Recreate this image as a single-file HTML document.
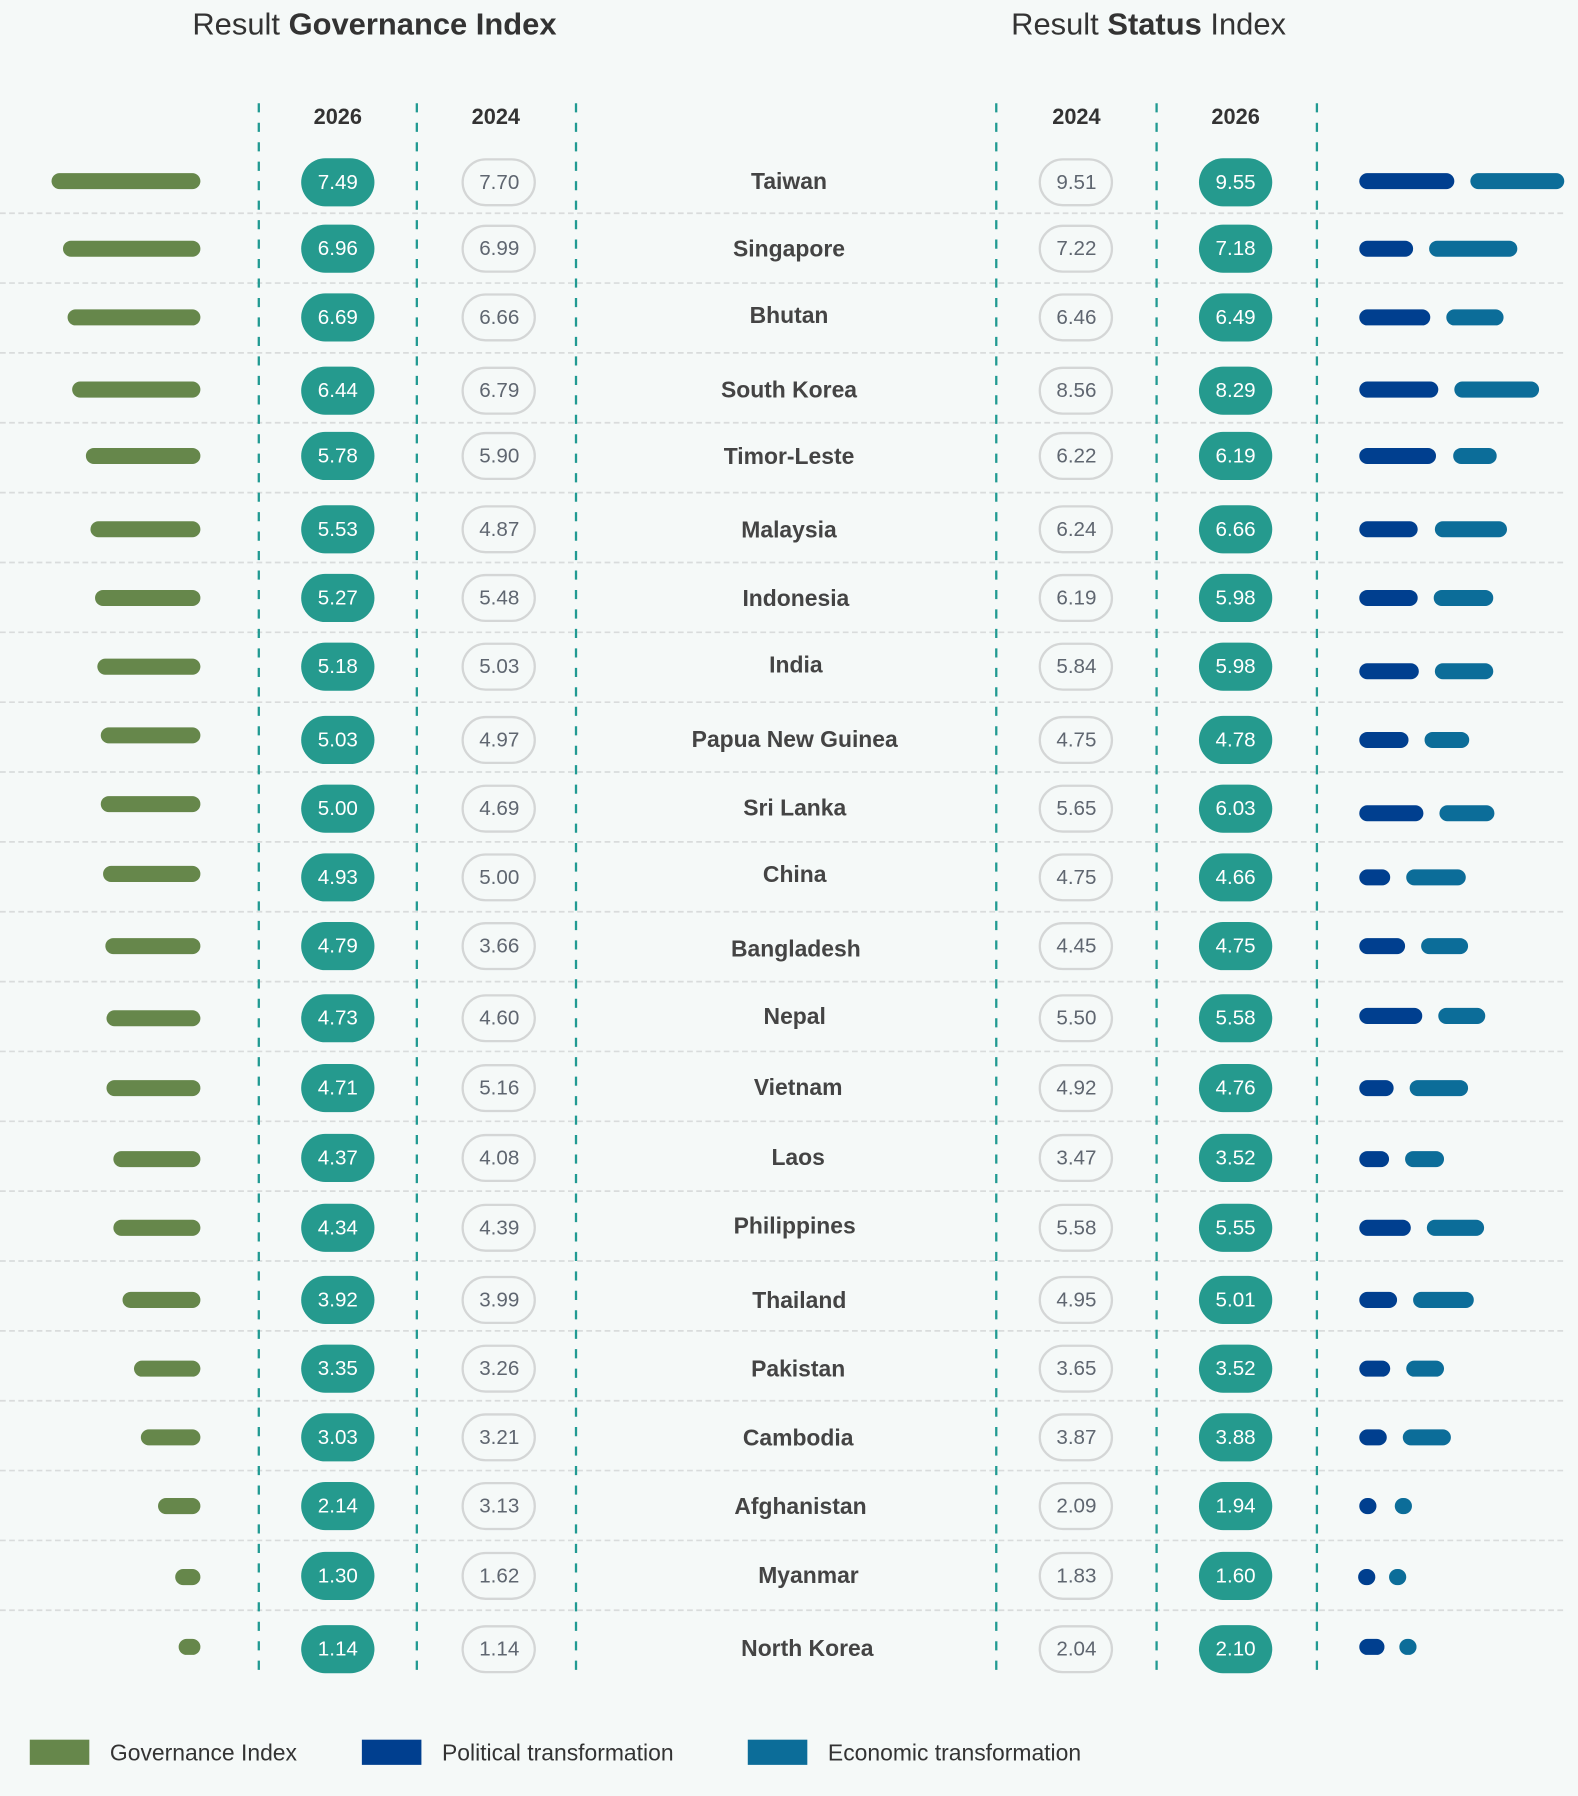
<!DOCTYPE html>
<html><head><meta charset="utf-8"><style>
html,body{margin:0;padding:0;background:#f5f9f8;}
svg{display:block;}
text{font-family:"Liberation Sans",sans-serif;}
.t{font-size:27px;fill:#333;}
.h{font-size:19px;font-weight:bold;fill:#333;text-anchor:middle;}
.c{font-size:20px;font-weight:bold;fill:#444;text-anchor:middle;dominant-baseline:central;}
.pf{fill:#259a8e;}
.po{fill:#f5f9f8;stroke:#d4d6d6;stroke-width:2;}
.nf{font-size:18px;fill:#fff;text-anchor:middle;dominant-baseline:central;}
.no{font-size:18px;fill:#5f6670;text-anchor:middle;dominant-baseline:central;}
.g{stroke:#66874b;stroke-width:14;stroke-linecap:round;}
.p{stroke:#003f8f;stroke-width:14;stroke-linecap:round;}
.e{stroke:#0c6d99;stroke-width:14;stroke-linecap:round;}
.v{stroke:#219a92;stroke-width:2;stroke-dasharray:8,9;}
.s{stroke:#d9dcdc;stroke-width:1.5;stroke-dasharray:5,3;}
.l{font-size:20px;fill:#333;dominant-baseline:central;}
</style></head><body>
<svg width="1578" height="1796" viewBox="0 0 1378 1568" xmlns="http://www.w3.org/2000/svg">
<rect width="1378" height="1568" fill="#f5f9f8"/>
<text class="t" x="327" y="30" text-anchor="middle">Result <tspan font-weight="bold">Governance Index</tspan></text>
<text class="t" x="1003" y="30" text-anchor="middle">Result <tspan font-weight="bold">Status</tspan> Index</text>
<text class="h" x="295" y="108">2026</text><text class="h" x="433" y="108">2024</text>
<text class="h" x="940" y="108">2024</text><text class="h" x="1079" y="108">2026</text>
<g class="s">
<line x1="0" y1="186" x2="1366" y2="186"/><line x1="0" y1="247" x2="1366" y2="247"/><line x1="0" y1="308" x2="1366" y2="308"/><line x1="0" y1="369" x2="1366" y2="369"/><line x1="0" y1="430" x2="1366" y2="430"/><line x1="0" y1="491" x2="1366" y2="491"/><line x1="0" y1="552" x2="1366" y2="552"/><line x1="0" y1="613" x2="1366" y2="613"/><line x1="0" y1="674" x2="1366" y2="674"/><line x1="0" y1="735" x2="1366" y2="735"/><line x1="0" y1="796" x2="1366" y2="796"/><line x1="0" y1="857" x2="1366" y2="857"/><line x1="0" y1="918" x2="1366" y2="918"/><line x1="0" y1="979" x2="1366" y2="979"/><line x1="0" y1="1040" x2="1366" y2="1040"/><line x1="0" y1="1101" x2="1366" y2="1101"/><line x1="0" y1="1162" x2="1366" y2="1162"/><line x1="0" y1="1223" x2="1366" y2="1223"/><line x1="0" y1="1284" x2="1366" y2="1284"/><line x1="0" y1="1345" x2="1366" y2="1345"/><line x1="0" y1="1406" x2="1366" y2="1406"/>
</g>
<g class="v">
<line x1="226" y1="90" x2="226" y2="1460"/><line x1="364" y1="90" x2="364" y2="1460"/><line x1="503" y1="90" x2="503" y2="1460"/><line x1="870" y1="90" x2="870" y2="1460"/><line x1="1010" y1="90" x2="1010" y2="1460"/><line x1="1150" y1="90" x2="1150" y2="1460"/>
</g>
<!-- green bars -->
<g class="g">
<line x1="52" y1="158" x2="168" y2="158"/><line x1="62" y1="217" x2="168" y2="217"/><line x1="66" y1="277" x2="168" y2="277"/><line x1="70" y1="340" x2="168" y2="340"/><line x1="82" y1="398" x2="168" y2="398"/><line x1="86" y1="462" x2="168" y2="462"/><line x1="90" y1="522" x2="168" y2="522"/><line x1="92" y1="582" x2="168" y2="582"/><line x1="95" y1="642" x2="168" y2="642"/><line x1="95" y1="702" x2="168" y2="702"/><line x1="97" y1="763" x2="168" y2="763"/><line x1="99" y1="826" x2="168" y2="826"/><line x1="100" y1="889" x2="168" y2="889"/><line x1="100" y1="950" x2="168" y2="950"/><line x1="106" y1="1012" x2="168" y2="1012"/><line x1="106" y1="1072" x2="168" y2="1072"/><line x1="114" y1="1135" x2="168" y2="1135"/><line x1="124" y1="1195" x2="168" y2="1195"/><line x1="130" y1="1255" x2="168" y2="1255"/><line x1="145" y1="1315" x2="168" y2="1315"/><line x1="160" y1="1377" x2="168" y2="1377"/><line x1="163" y1="1438" x2="168" y2="1438"/>
</g>
<!-- political -->
<g class="p">
<line x1="1194" y1="158" x2="1263" y2="158"/><line x1="1194" y1="217" x2="1227" y2="217"/><line x1="1194" y1="277" x2="1242" y2="277"/><line x1="1194" y1="340" x2="1249" y2="340"/><line x1="1194" y1="398" x2="1247" y2="398"/><line x1="1194" y1="462" x2="1231" y2="462"/><line x1="1194" y1="522" x2="1231" y2="522"/><line x1="1194" y1="586" x2="1232" y2="586"/><line x1="1194" y1="646" x2="1223" y2="646"/><line x1="1194" y1="710" x2="1236" y2="710"/><line x1="1194" y1="766" x2="1207" y2="766"/><line x1="1194" y1="826" x2="1220" y2="826"/><line x1="1194" y1="887" x2="1235" y2="887"/><line x1="1194" y1="950" x2="1210" y2="950"/><line x1="1194" y1="1012" x2="1206" y2="1012"/><line x1="1194" y1="1072" x2="1225" y2="1072"/><line x1="1194" y1="1135" x2="1213" y2="1135"/><line x1="1194" y1="1195" x2="1207" y2="1195"/><line x1="1194" y1="1255" x2="1204" y2="1255"/><line x1="1194" y1="1315" x2="1195" y2="1315"/><line x1="1193" y1="1377" x2="1194" y2="1377"/><line x1="1194" y1="1438" x2="1202" y2="1438"/>
</g>
<g class="e">
<line x1="1291" y1="158" x2="1359" y2="158"/><line x1="1255" y1="217" x2="1318" y2="217"/><line x1="1270" y1="277" x2="1306" y2="277"/><line x1="1277" y1="340" x2="1337" y2="340"/><line x1="1276" y1="398" x2="1300" y2="398"/><line x1="1260" y1="462" x2="1309" y2="462"/><line x1="1259" y1="522" x2="1297" y2="522"/><line x1="1260" y1="586" x2="1297" y2="586"/><line x1="1251" y1="646" x2="1276" y2="646"/><line x1="1264" y1="710" x2="1298" y2="710"/><line x1="1235" y1="766" x2="1273" y2="766"/><line x1="1248" y1="826" x2="1275" y2="826"/><line x1="1263" y1="887" x2="1290" y2="887"/><line x1="1238" y1="950" x2="1275" y2="950"/><line x1="1234" y1="1012" x2="1254" y2="1012"/><line x1="1253" y1="1072" x2="1289" y2="1072"/><line x1="1241" y1="1135" x2="1280" y2="1135"/><line x1="1235" y1="1195" x2="1254" y2="1195"/><line x1="1232" y1="1255" x2="1260" y2="1255"/><line x1="1225" y1="1315" x2="1226" y2="1315"/><line x1="1220" y1="1377" x2="1221" y2="1377"/><line x1="1229" y1="1438" x2="1230" y2="1438"/>
</g>
<!-- rows -->
<g>
<rect class="pf" x="263" y="138" width="64" height="42" rx="21"/><text class="nf" x="295" y="159">7.49</text>
<rect class="po" x="404" y="139" width="63" height="40" rx="20"/><text class="no" x="436" y="159">7.70</text>
<text class="c" x="689" y="158">Taiwan</text>
<rect class="po" x="908" y="139" width="63" height="40" rx="20"/><text class="no" x="940" y="159">9.51</text>
<rect class="pf" x="1047" y="138" width="64" height="42" rx="21"/><text class="nf" x="1079" y="159">9.55</text>

<rect class="pf" x="263" y="196" width="64" height="42" rx="21"/><text class="nf" x="295" y="217">6.96</text>
<rect class="po" x="404" y="197" width="63" height="40" rx="20"/><text class="no" x="436" y="217">6.99</text>
<text class="c" x="689" y="217">Singapore</text>
<rect class="po" x="908" y="197" width="63" height="40" rx="20"/><text class="no" x="940" y="217">7.22</text>
<rect class="pf" x="1047" y="196" width="64" height="42" rx="21"/><text class="nf" x="1079" y="217">7.18</text>

<rect class="pf" x="263" y="256" width="64" height="42" rx="21"/><text class="nf" x="295" y="277">6.69</text>
<rect class="po" x="404" y="257" width="63" height="40" rx="20"/><text class="no" x="436" y="277">6.66</text>
<text class="c" x="689" y="275">Bhutan</text>
<rect class="po" x="908" y="257" width="63" height="40" rx="20"/><text class="no" x="940" y="277">6.46</text>
<rect class="pf" x="1047" y="256" width="64" height="42" rx="21"/><text class="nf" x="1079" y="277">6.49</text>

<rect class="pf" x="263" y="320" width="64" height="42" rx="21"/><text class="nf" x="295" y="341">6.44</text>
<rect class="po" x="404" y="321" width="63" height="40" rx="20"/><text class="no" x="436" y="341">6.79</text>
<text class="c" x="689" y="340">South Korea</text>
<rect class="po" x="908" y="321" width="63" height="40" rx="20"/><text class="no" x="940" y="341">8.56</text>
<rect class="pf" x="1047" y="320" width="64" height="42" rx="21"/><text class="nf" x="1079" y="341">8.29</text>

<rect class="pf" x="263" y="377" width="64" height="42" rx="21"/><text class="nf" x="295" y="398">5.78</text>
<rect class="po" x="404" y="378" width="63" height="40" rx="20"/><text class="no" x="436" y="398">5.90</text>
<text class="c" x="689" y="398">Timor-Leste</text>
<rect class="po" x="908" y="378" width="63" height="40" rx="20"/><text class="no" x="940" y="398">6.22</text>
<rect class="pf" x="1047" y="377" width="64" height="42" rx="21"/><text class="nf" x="1079" y="398">6.19</text>

<rect class="pf" x="263" y="441" width="64" height="42" rx="21"/><text class="nf" x="295" y="462">5.53</text>
<rect class="po" x="404" y="442" width="63" height="40" rx="20"/><text class="no" x="436" y="462">4.87</text>
<text class="c" x="689" y="462">Malaysia</text>
<rect class="po" x="908" y="442" width="63" height="40" rx="20"/><text class="no" x="940" y="462">6.24</text>
<rect class="pf" x="1047" y="441" width="64" height="42" rx="21"/><text class="nf" x="1079" y="462">6.66</text>

<rect class="pf" x="263" y="501" width="64" height="42" rx="21"/><text class="nf" x="295" y="522">5.27</text>
<rect class="po" x="404" y="502" width="63" height="40" rx="20"/><text class="no" x="436" y="522">5.48</text>
<text class="c" x="695" y="522">Indonesia</text>
<rect class="po" x="908" y="502" width="63" height="40" rx="20"/><text class="no" x="940" y="522">6.19</text>
<rect class="pf" x="1047" y="501" width="64" height="42" rx="21"/><text class="nf" x="1079" y="522">5.98</text>

<rect class="pf" x="263" y="561" width="64" height="42" rx="21"/><text class="nf" x="295" y="582">5.18</text>
<rect class="po" x="404" y="562" width="63" height="40" rx="20"/><text class="no" x="436" y="582">5.03</text>
<text class="c" x="695" y="580">India</text>
<rect class="po" x="908" y="562" width="63" height="40" rx="20"/><text class="no" x="940" y="582">5.84</text>
<rect class="pf" x="1047" y="561" width="64" height="42" rx="21"/><text class="nf" x="1079" y="582">5.98</text>

<rect class="pf" x="263" y="625" width="64" height="42" rx="21"/><text class="nf" x="295" y="646">5.03</text>
<rect class="po" x="404" y="626" width="63" height="40" rx="20"/><text class="no" x="436" y="646">4.97</text>
<text class="c" x="694" y="645">Papua New Guinea</text>
<rect class="po" x="908" y="626" width="63" height="40" rx="20"/><text class="no" x="940" y="646">4.75</text>
<rect class="pf" x="1047" y="625" width="64" height="42" rx="21"/><text class="nf" x="1079" y="646">4.78</text>

<rect class="pf" x="263" y="685" width="64" height="42" rx="21"/><text class="nf" x="295" y="706">5.00</text>
<rect class="po" x="404" y="686" width="63" height="40" rx="20"/><text class="no" x="436" y="706">4.69</text>
<text class="c" x="694" y="705">Sri Lanka</text>
<rect class="po" x="908" y="686" width="63" height="40" rx="20"/><text class="no" x="940" y="706">5.65</text>
<rect class="pf" x="1047" y="685" width="64" height="42" rx="21"/><text class="nf" x="1079" y="706">6.03</text>

<rect class="pf" x="263" y="745" width="64" height="42" rx="21"/><text class="nf" x="295" y="766">4.93</text>
<rect class="po" x="404" y="746" width="63" height="40" rx="20"/><text class="no" x="436" y="766">5.00</text>
<text class="c" x="694" y="763">China</text>
<rect class="po" x="908" y="746" width="63" height="40" rx="20"/><text class="no" x="940" y="766">4.75</text>
<rect class="pf" x="1047" y="745" width="64" height="42" rx="21"/><text class="nf" x="1079" y="766">4.66</text>

<rect class="pf" x="263" y="805" width="64" height="42" rx="21"/><text class="nf" x="295" y="826">4.79</text>
<rect class="po" x="404" y="806" width="63" height="40" rx="20"/><text class="no" x="436" y="826">3.66</text>
<text class="c" x="695" y="828">Bangladesh</text>
<rect class="po" x="908" y="806" width="63" height="40" rx="20"/><text class="no" x="940" y="826">4.45</text>
<rect class="pf" x="1047" y="805" width="64" height="42" rx="21"/><text class="nf" x="1079" y="826">4.75</text>

<rect class="pf" x="263" y="868" width="64" height="42" rx="21"/><text class="nf" x="295" y="889">4.73</text>
<rect class="po" x="404" y="869" width="63" height="40" rx="20"/><text class="no" x="436" y="889">4.60</text>
<text class="c" x="694" y="887">Nepal</text>
<rect class="po" x="908" y="869" width="63" height="40" rx="20"/><text class="no" x="940" y="889">5.50</text>
<rect class="pf" x="1047" y="868" width="64" height="42" rx="21"/><text class="nf" x="1079" y="889">5.58</text>

<rect class="pf" x="263" y="929" width="64" height="42" rx="21"/><text class="nf" x="295" y="950">4.71</text>
<rect class="po" x="404" y="930" width="63" height="40" rx="20"/><text class="no" x="436" y="950">5.16</text>
<text class="c" x="697" y="949">Vietnam</text>
<rect class="po" x="908" y="930" width="63" height="40" rx="20"/><text class="no" x="940" y="950">4.92</text>
<rect class="pf" x="1047" y="929" width="64" height="42" rx="21"/><text class="nf" x="1079" y="950">4.76</text>

<rect class="pf" x="263" y="990" width="64" height="42" rx="21"/><text class="nf" x="295" y="1011">4.37</text>
<rect class="po" x="404" y="991" width="63" height="40" rx="20"/><text class="no" x="436" y="1011">4.08</text>
<text class="c" x="697" y="1010">Laos</text>
<rect class="po" x="908" y="991" width="63" height="40" rx="20"/><text class="no" x="940" y="1011">3.47</text>
<rect class="pf" x="1047" y="990" width="64" height="42" rx="21"/><text class="nf" x="1079" y="1011">3.52</text>

<rect class="pf" x="263" y="1051" width="64" height="42" rx="21"/><text class="nf" x="295" y="1072">4.34</text>
<rect class="po" x="404" y="1052" width="63" height="40" rx="20"/><text class="no" x="436" y="1072">4.39</text>
<text class="c" x="694" y="1070">Philippines</text>
<rect class="po" x="908" y="1052" width="63" height="40" rx="20"/><text class="no" x="940" y="1072">5.58</text>
<rect class="pf" x="1047" y="1051" width="64" height="42" rx="21"/><text class="nf" x="1079" y="1072">5.55</text>

<rect class="pf" x="263" y="1114" width="64" height="42" rx="21"/><text class="nf" x="295" y="1135">3.92</text>
<rect class="po" x="404" y="1115" width="63" height="40" rx="20"/><text class="no" x="436" y="1135">3.99</text>
<text class="c" x="698" y="1135">Thailand</text>
<rect class="po" x="908" y="1115" width="63" height="40" rx="20"/><text class="no" x="940" y="1135">4.95</text>
<rect class="pf" x="1047" y="1114" width="64" height="42" rx="21"/><text class="nf" x="1079" y="1135">5.01</text>

<rect class="pf" x="263" y="1174" width="64" height="42" rx="21"/><text class="nf" x="295" y="1195">3.35</text>
<rect class="po" x="404" y="1175" width="63" height="40" rx="20"/><text class="no" x="436" y="1195">3.26</text>
<text class="c" x="697" y="1195">Pakistan</text>
<rect class="po" x="908" y="1175" width="63" height="40" rx="20"/><text class="no" x="940" y="1195">3.65</text>
<rect class="pf" x="1047" y="1174" width="64" height="42" rx="21"/><text class="nf" x="1079" y="1195">3.52</text>

<rect class="pf" x="263" y="1234" width="64" height="42" rx="21"/><text class="nf" x="295" y="1255">3.03</text>
<rect class="po" x="404" y="1235" width="63" height="40" rx="20"/><text class="no" x="436" y="1255">3.21</text>
<text class="c" x="697" y="1255">Cambodia</text>
<rect class="po" x="908" y="1235" width="63" height="40" rx="20"/><text class="no" x="940" y="1255">3.87</text>
<rect class="pf" x="1047" y="1234" width="64" height="42" rx="21"/><text class="nf" x="1079" y="1255">3.88</text>

<rect class="pf" x="263" y="1294" width="64" height="42" rx="21"/><text class="nf" x="295" y="1315">2.14</text>
<rect class="po" x="404" y="1295" width="63" height="40" rx="20"/><text class="no" x="436" y="1315">3.13</text>
<text class="c" x="699" y="1315">Afghanistan</text>
<rect class="po" x="908" y="1295" width="63" height="40" rx="20"/><text class="no" x="940" y="1315">2.09</text>
<rect class="pf" x="1047" y="1294" width="64" height="42" rx="21"/><text class="nf" x="1079" y="1315">1.94</text>

<rect class="pf" x="263" y="1355" width="64" height="42" rx="21"/><text class="nf" x="295" y="1376">1.30</text>
<rect class="po" x="404" y="1356" width="63" height="40" rx="20"/><text class="no" x="436" y="1376">1.62</text>
<text class="c" x="706" y="1375">Myanmar</text>
<rect class="po" x="908" y="1356" width="63" height="40" rx="20"/><text class="no" x="940" y="1376">1.83</text>
<rect class="pf" x="1047" y="1355" width="64" height="42" rx="21"/><text class="nf" x="1079" y="1376">1.60</text>

<rect class="pf" x="263" y="1419" width="64" height="42" rx="21"/><text class="nf" x="295" y="1440">1.14</text>
<rect class="po" x="404" y="1420" width="63" height="40" rx="20"/><text class="no" x="436" y="1440">1.14</text>
<text class="c" x="705" y="1439">North Korea</text>
<rect class="po" x="908" y="1420" width="63" height="40" rx="20"/><text class="no" x="940" y="1440">2.04</text>
<rect class="pf" x="1047" y="1419" width="64" height="42" rx="21"/><text class="nf" x="1079" y="1440">2.10</text>
</g>
<!-- legend -->
<rect x="26" y="1519" width="52" height="22" fill="#66874b"/><text class="l" x="96" y="1530">Governance Index</text>
<rect x="316" y="1519" width="52" height="22" fill="#003f8f"/><text class="l" x="386" y="1530">Political transformation</text>
<rect x="653" y="1519" width="52" height="22" fill="#0c6d99"/><text class="l" x="723" y="1530">Economic transformation</text>
</svg>
</body></html>
